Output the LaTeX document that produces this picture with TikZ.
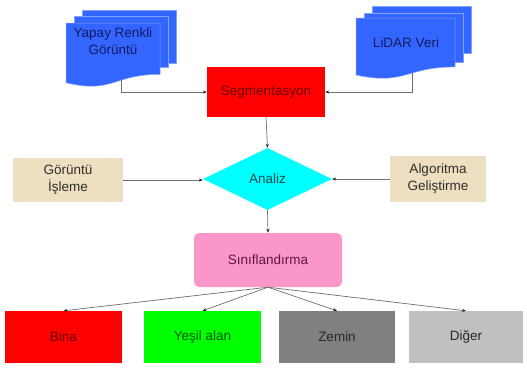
\documentclass[tikz,border=0pt]{standalone}
\usepackage{fontspec}
\setmainfont{Liberation Sans}
\usetikzlibrary{shapes.geometric,arrows.meta,calc}
\definecolor{docblue}{RGB}{51,102,255}
\definecolor{docedge}{RGB}{130,160,255}
\definecolor{navytxt}{RGB}{20,25,100}
\definecolor{segred}{RGB}{255,0,0}
\definecolor{darkredtxt}{RGB}{105,0,0}
\definecolor{cyanfill}{RGB}{0,255,255}
\definecolor{tealtxt}{RGB}{0,75,80}
\definecolor{tanfill}{RGB}{237,224,194}
\definecolor{tantxt}{RGB}{50,45,35}
\definecolor{pinkfill}{RGB}{250,150,200}
\definecolor{pinktxt}{RGB}{95,20,70}
\definecolor{greenfill}{RGB}{0,255,0}
\definecolor{greentxt}{RGB}{0,90,0}
\definecolor{grayfill}{RGB}{128,128,128}
\definecolor{lgrayfill}{RGB}{192,192,192}
\definecolor{graytxt}{RGB}{40,40,40}
\definecolor{linegray}{RGB}{110,110,110}
\definecolor{tipcol}{RGB}{40,40,40}
\tikzset{
  txt/.style={font=\fontsize{13.5}{17}\selectfont, align=center, inner sep=0pt},
  docstyle/.style={fill=docblue, draw=docedge, line width=0.5pt},
  box/.style={txt, rectangle, draw=none},
  tanbox/.style={box, fill=tanfill, text=tantxt},
  conn/.style={draw=linegray, line width=0.7pt, -{Stealth[length=4pt,width=3.2pt,color=tipcol]}}
}
\newcommand{\multidoc}[8]{%
  \filldraw[docstyle] ({#1+16},{#2-#8}) rectangle ({#1+#3+16},{#2+#6});
  \filldraw[docstyle] ({#1+8},{#2-#7}) rectangle ({#1+#3+8},{#2+#5});
  \filldraw[docstyle] (#1,#2) -- ({#1+#3},#2) -- ({#1+#3},{#2+0.802*#4})
    .. controls ({#1+0.5*#3},{#2+0.802*#4}) and ({#1+0.5*#3},{#2+1.107*#4}) .. (#1,{#2+0.934*#4}) -- cycle;}
\begin{document}
\begin{tikzpicture}[x=1pt,y=-1pt]
\useasboundingbox[fill=white] (0,0) rectangle (527,367);
% documents
\multidoc{66}{23}{94}{64}{44}{40}{7}{13}
\multidoc{356}{18}{99}{61}{44}{35}{5}{12}
\node[txt, text=navytxt] (yapay) at (113,41) {Yapay Renkli\\Görüntü};
\node[txt, text=navytxt] (lidar) at (406,43) {LiDAR Veri};
\coordinate (yapayout) at (121,80);
\coordinate (lidarout) at (412,72);
% main boxes
\node[box, fill=segred, text=darkredtxt, minimum width=118pt, minimum height=50pt] (seg) at (266,92) {Segmentasyon};
\node[txt, diamond, fill=cyanfill, text=tealtxt, minimum width=129pt, minimum height=62pt] (analiz) at (267.5,179) {Analiz};
\node[tanbox, minimum width=110pt, minimum height=44pt] (gor) at (68,180) {Görüntü\\İşleme};
\node[tanbox, minimum width=96pt, minimum height=46pt] (alg) at (438,179) {Algoritma\\Geliştirme};
\node[box, fill=pinkfill, text=pinktxt, rounded corners=6pt, minimum width=148pt, minimum height=54pt] (sinif) at (268,260) {Sınıflandırma};
% bottom row
\node[box, fill=segred, text=darkredtxt, minimum width=117pt, minimum height=52pt] (bina) at (63.5,337) {Bina};
\node[box, fill=greenfill, text=greentxt, minimum width=117pt, minimum height=52pt] (yesil) at (202.5,337) {Yeşil alan};
\node[box, fill=grayfill, text=graytxt, minimum width=116pt, minimum height=52pt] (zemin) at (337,337) {Zemin};
\node[box, fill=lgrayfill, text=graytxt, minimum width=114pt, minimum height=52pt] (diger) at (466,337) {Diğer};
% connectors
\draw[conn] (yapayout) |- (seg.west);
\draw[conn] (lidarout) |- (seg.east);
\draw[conn] (seg.south) -- (analiz.north);
\draw[conn] (gor.east) -- (gor.east -| analiz.west);
\draw[conn] (alg.west) -- (analiz.east);
\draw[conn] (analiz.south) -- (sinif.north);
\draw[conn] (sinif.south) -- (bina.north);
\draw[conn] (sinif.south) -- (yesil.north);
\draw[conn] (sinif.south) -- (zemin.north);
\draw[conn] (sinif.south) -- (diger.north);
\end{tikzpicture}
\end{document}
